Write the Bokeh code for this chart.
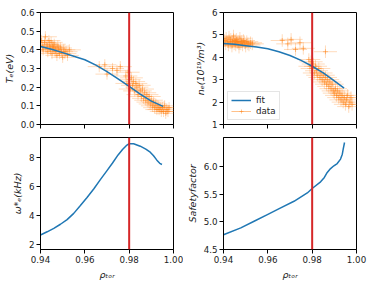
from bokeh.plotting import figure
from bokeh.models import (Range1d, Span, FixedTicker, NumeralTickFormatter,
                          ColumnDataSource, Legend, LegendItem)
from bokeh.layouts import column, row
from bokeh.embed import file_html
from bokeh.resources import INLINE

BLUE = "#1f77b4"
ORANGE = "#ff7f0e"
RED = "#d62728"
FONT = "DejaVu Sans"

X_TICKS = [0.94, 0.96, 0.98, 1.00]
RHO_SEP = 0.98

# ---- Te panel ----
te_fit_x = [0.94, 0.945, 0.95, 0.955, 0.96, 0.965, 0.97, 0.975, 0.98, 0.985, 0.99, 0.9953]
te_fit_y = [0.418, 0.403, 0.385, 0.366, 0.347, 0.318, 0.283, 0.244, 0.204, 0.163, 0.125, 0.097]
te_x = [0.9405, 0.9410, 0.9412, 0.9418, 0.9422, 0.9425, 0.9430, 0.9433, 0.9438, 0.9441,
        0.9445, 0.9448, 0.9452, 0.9455, 0.9458, 0.9462, 0.9466, 0.9470, 0.9474, 0.9478,
        0.9482, 0.9486, 0.9490, 0.9495, 0.9500, 0.9505, 0.9510, 0.9515, 0.9522, 0.9530,
        0.9665, 0.9690, 0.9700, 0.9725, 0.9745, 0.9760,
        0.9785, 0.9790, 0.9795, 0.9800, 0.9805, 0.9810, 0.9815, 0.9820, 0.9825, 0.9830,
        0.9835, 0.9840, 0.9845, 0.9850, 0.9855, 0.9860, 0.9865, 0.9870, 0.9875, 0.9880,
        0.9885, 0.9890, 0.9895, 0.9900, 0.9905, 0.9910, 0.9915, 0.9920, 0.9925, 0.9930,
        0.9935, 0.9940, 0.9945, 0.9950, 0.9955, 0.9960, 0.9965, 0.9970, 0.9975, 0.9980]
te_y = [0.45, 0.42, 0.40, 0.44, 0.47, 0.41, 0.43, 0.39, 0.45, 0.42,
        0.40, 0.44, 0.38, 0.42, 0.41, 0.43, 0.39, 0.41, 0.37, 0.42,
        0.40, 0.38, 0.41, 0.39, 0.36, 0.40, 0.38, 0.39, 0.37, 0.40,
        0.31, 0.32, 0.27, 0.30, 0.29, 0.31,
        0.26, 0.22, 0.28, 0.24, 0.19, 0.25, 0.21, 0.23, 0.18, 0.22,
        0.20, 0.16, 0.21, 0.18, 0.15, 0.19, 0.14, 0.17, 0.13, 0.16,
        0.12, 0.15, 0.11, 0.13, 0.10, 0.12, 0.09, 0.11, 0.08, 0.10,
        0.08, 0.09, 0.07, 0.09, 0.07, 0.10, 0.06, 0.08, 0.07, 0.09]
te_xerr = 0.0052
te_yerr = 0.03

# ---- ne panel ----
ne_fit_x = [0.94, 0.945, 0.95, 0.955, 0.96, 0.965, 0.97, 0.975, 0.98, 0.985, 0.99, 0.9944]
ne_fit_y = [4.62, 4.58, 4.52, 4.46, 4.38, 4.25, 4.08, 3.86, 3.60, 3.30, 2.95, 2.62]
ne_x = [0.9405, 0.9410, 0.9412, 0.9418, 0.9422, 0.9425, 0.9430, 0.9433, 0.9438, 0.9441,
        0.9445, 0.9448, 0.9452, 0.9455, 0.9458, 0.9462, 0.9466, 0.9470, 0.9474, 0.9478,
        0.9482, 0.9486, 0.9490, 0.9495, 0.9500, 0.9505, 0.9510, 0.9515, 0.9522, 0.9530,
        0.9665, 0.9690, 0.9705, 0.9725, 0.9745, 0.9760, 0.9860,
        0.9785, 0.9790, 0.9795, 0.9800, 0.9805, 0.9810, 0.9815, 0.9820, 0.9825, 0.9830,
        0.9835, 0.9840, 0.9845, 0.9850, 0.9855, 0.9860, 0.9865, 0.9870, 0.9875, 0.9880,
        0.9885, 0.9890, 0.9895, 0.9900, 0.9905, 0.9910, 0.9915, 0.9920, 0.9925, 0.9930,
        0.9935, 0.9940, 0.9945, 0.9950, 0.9955, 0.9960, 0.9965, 0.9970, 0.9975, 0.9980]
ne_y = [4.75, 4.60, 4.85, 4.70, 4.55, 4.90, 4.65, 4.80, 4.50, 4.70,
        4.95, 4.60, 4.75, 4.55, 4.80, 4.65, 4.70, 4.45, 4.85, 4.60,
        4.70, 4.55, 4.75, 4.65, 4.50, 4.70, 4.60, 4.55, 4.65, 4.60,
        4.75, 4.60, 4.80, 4.35, 4.65, 4.40, 4.25,
        3.90, 3.60, 3.80, 3.50, 3.70, 3.30, 3.60, 3.40, 3.20, 3.50,
        3.10, 3.30, 3.00, 3.20, 2.90, 3.10, 2.80, 3.00, 2.70, 2.90,
        2.60, 2.80, 2.50, 2.40, 2.60, 2.30, 2.50, 2.20, 2.40, 2.10,
        2.30, 2.00, 2.20, 1.90, 2.10, 2.30, 1.80, 2.00, 2.20, 1.90]
ne_xerr = 0.0052
ne_yerr = 0.28

# ---- omega*e panel ----
om_x = [0.935, 0.94, 0.943, 0.946, 0.949, 0.952, 0.955, 0.958, 0.961, 0.964,
        0.967, 0.970, 0.9725, 0.975, 0.977, 0.979, 0.980, 0.982, 0.985, 0.9875,
        0.9895, 0.991, 0.9925, 0.9938, 0.9948]
om_y = [2.20, 2.66, 2.88, 3.12, 3.40, 3.72, 4.15, 4.69, 5.25, 5.83,
        6.48, 7.10, 7.62, 8.18, 8.55, 8.86, 8.95, 8.95, 8.78, 8.58,
        8.37, 8.12, 7.82, 7.60, 7.52]

# ---- safety factor panel ----
q_x = [0.935, 0.94, 0.9478, 0.9538, 0.9598, 0.9658, 0.9718, 0.9778, 0.98, 0.9838,
       0.9855, 0.9868, 0.9883, 0.9898, 0.9913, 0.9928, 0.9936, 0.994, 0.9946]
q_y = [4.64, 4.765, 4.89, 5.01, 5.13, 5.25, 5.37, 5.52, 5.60, 5.72,
       5.80, 5.89, 5.96, 6.01, 6.05, 6.13, 6.22, 6.31, 6.43]


def make_fig(w, h, yr, yticks, yfmt, ylabel, show_x, left, right, top, bottom):
    p = figure(width=w, height=h,
               x_range=Range1d(0.94, 1.0), y_range=Range1d(*yr),
               output_backend="svg", toolbar_location=None,
               min_border_left=left, min_border_right=right,
               min_border_top=top, min_border_bottom=bottom)
    p.background_fill_color = "white"
    p.border_fill_color = "white"
    p.outline_line_color = "black"
    p.outline_line_width = 1
    p.xgrid.visible = False
    p.ygrid.visible = False
    for ax in (p.xaxis[0], p.yaxis[0]):
        ax.major_tick_in = 0
        ax.major_tick_out = 4
        ax.minor_tick_line_color = None
        ax.axis_line_color = "black"
        ax.major_tick_line_color = "black"
        ax.major_label_text_font = FONT
        ax.major_label_text_font_size = "8.7px"
        ax.major_label_text_color = "#222222"
        ax.major_label_standoff = 2
        ax.axis_label_text_font = FONT
        ax.axis_label_text_font_style = "italic"
        ax.axis_label_text_font_size = "9.5px"
        ax.axis_label_text_color = "#222222"
        ax.axis_label_standoff = 3
    p.xaxis.ticker = FixedTicker(ticks=X_TICKS)
    p.xaxis.formatter = NumeralTickFormatter(format="0.00")
    p.yaxis.ticker = FixedTicker(ticks=yticks)
    p.yaxis.formatter = NumeralTickFormatter(format=yfmt)
    p.yaxis.axis_label = ylabel
    if show_x:
        p.xaxis.axis_label = "ρₜₒᵣ"
        p.xaxis.major_label_standoff = 2
        p.xaxis.axis_label_standoff = 3
    else:
        p.xaxis.major_label_overrides = {t: "" for t in X_TICKS}
        p.xaxis.major_label_text_font_size = "0px"
        p.xaxis.major_label_standoff = 0
    p.add_layout(Span(location=RHO_SEP, dimension="height",
                      line_color=RED, line_width=2))
    return p


def err_data(p, xs, ys, xerr, yerr):
    src = ColumnDataSource(dict(
        x=xs, y=ys,
        x0=[x - xerr for x in xs], x1=[x + xerr for x in xs],
        y0=[y - yerr for y in ys], y1=[y + yerr for y in ys]))
    h = p.segment(x0="x0", y0="y", x1="x1", y1="y", source=src,
                  line_color=ORANGE, line_alpha=0.28, line_width=1)
    v = p.segment(x0="x", y0="y0", x1="x", y1="y1", source=src,
                  line_color=ORANGE, line_alpha=0.28, line_width=1)
    m = p.scatter("x", "y", source=src, marker="cross", size=5,
                  line_color=ORANGE, line_alpha=0.45)
    return [h, v, m]


# frames: 133 x 112; top row frame y 12..124, bottom row 137..249
# left column frame x 40..173, right column 223..356
p1 = make_fig(183, 130, (0, 0.6), [0, 0.1, 0.2, 0.3, 0.4, 0.5, 0.6], "0.0", "Tₑ(eV)",
              False, 40, 10, 12, 6)
err_data(p1, te_x, te_y, te_xerr, te_yerr)
p1.line(te_fit_x, te_fit_y, line_color=BLUE, line_width=1.5)

p2 = make_fig(190, 130, (1, 6), [1, 2, 3, 4, 5, 6], "0", "nₑ(10¹⁹/m³)",
              False, 40, 17, 12, 6)
data_r = err_data(p2, ne_x, ne_y, ne_xerr, ne_yerr)
fit_r = p2.line(ne_fit_x, ne_fit_y, line_color=BLUE, line_width=1.5)
legend = Legend(items=[LegendItem(label="fit", renderers=[fit_r]),
                       LegendItem(label="data", renderers=data_r)],
                location="bottom_left")
legend.label_text_font = FONT
legend.label_text_font_size = "8.7px"
legend.label_text_color = "#222222"
legend.border_line_color = "#cccccc"
legend.border_line_width = 1
legend.background_fill_alpha = 0.8
legend.margin = 4
legend.padding = 3
legend.spacing = 1
legend.glyph_width = 20
legend.glyph_height = 10
legend.label_height = 10
legend.label_standoff = 5
p2.add_layout(legend)

p3 = make_fig(183, 153, (1.66, 9.38), [2, 4, 6, 8], "0", "ω*ₑ(kHz)",
              True, 40, 10, 7, 34)
p3.line(om_x, om_y, line_color=BLUE, line_width=1.5)

p4 = make_fig(190, 153, (4.5, 6.52), [4.5, 5.0, 5.5, 6.0], "0.0", "Safetyfactor",
              True, 40, 17, 7, 34)
p4.line(q_x, q_y, line_color=BLUE, line_width=1.5)

layout = column(row(p1, p2), row(p3, p4))
open("out.html", "w").write(file_html(layout, INLINE))
